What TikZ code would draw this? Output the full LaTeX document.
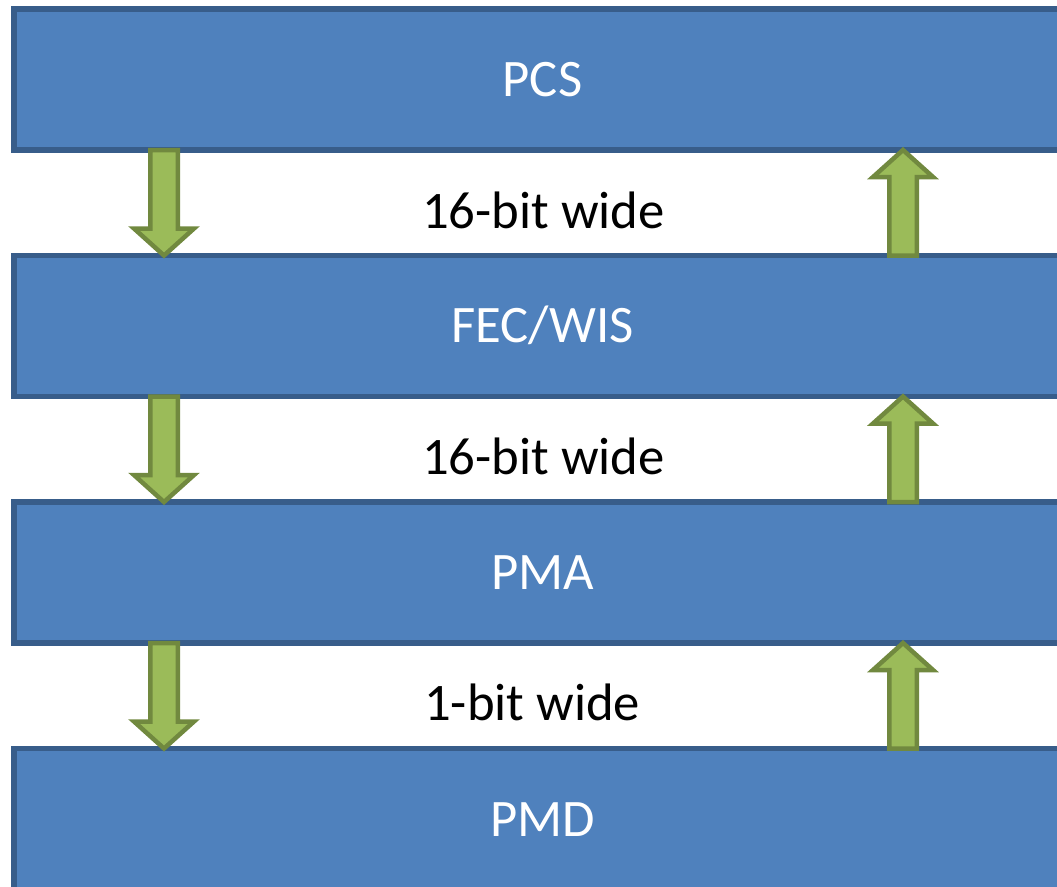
\documentclass[tikz,border=0pt]{standalone}
\usepackage{fontspec}
\setmainfont{Carlito}
\usetikzlibrary{calc}
\definecolor{boxfill}{HTML}{4F81BD}
\definecolor{boxline}{HTML}{385D8A}
\definecolor{arrfill}{HTML}{9BBB59}
\definecolor{arrline}{HTML}{71893F}
\newcommand\dnarrow[3]{%
  \draw[blockarrow] let \p1=(#1.south), \p2=(#2.north) in
   (#3pt-13.75pt,\y1) -- (#3pt+13.75pt,\y1) -- (#3pt+13.75pt,\y2+27pt)
   -- (#3pt+30pt,\y2+27pt) -- (#3pt,\y2) -- (#3pt-30pt,\y2+27pt)
   -- (#3pt-13.75pt,\y2+27pt) -- cycle;}
\newcommand\uparr[3]{%
  \draw[blockarrow] let \p1=(#1.south), \p2=(#2.north) in
   (#3pt-13.75pt,\y2) -- (#3pt+13.75pt,\y2) -- (#3pt+13.75pt,\y1-27pt)
   -- (#3pt+30pt,\y1-27pt) -- (#3pt,\y1) -- (#3pt-30pt,\y1-27pt)
   -- (#3pt-13.75pt,\y1-27pt) -- cycle;}
\begin{document}
\begin{tikzpicture}[x=1pt,y=-1pt,
  layerbox/.style={draw=boxline, fill=boxfill, line width=5.5pt,
    minimum width=1056pt, minimum height=141pt, inner sep=0pt, outer sep=0pt},
  layertext/.style={text=white, font=\fontsize{52.7}{60}\selectfont,
    anchor=base, inner sep=0pt},
  widthtext/.style={text=black, font=\fontsize{52.7}{60}\selectfont,
    anchor=base west, inner sep=0pt},
  blockarrow/.style={draw=arrline, fill=arrfill, line width=4.5pt, line join=miter}]
\useasboundingbox (0,0) rectangle (1057,886);
\clip (0,0) rectangle (1057,886);
% layers
\node[layerbox] (pcs) at (542,79.5) {};
\node[layerbox] (fec) at (542,326) {};
\node[layerbox] (pma) at (542,572.5) {};
\node[layerbox] (pmd) at (542,819) {};
% layer names
\node[layertext] (tpcs) at (542.5,96) {PCS};
\node[layertext] (tfec) at (542.5,342.5) {FEC/WIS};
\node[layertext] (tpma) at (542.5,589) {PMA};
\node[layertext] (tpmd) at (542.5,836) {PMD};
% width labels
\node[widthtext] (w1) at (422,228) {16-bit wide};
\node[widthtext] (w2) at (422,474.5) {16-bit wide};
\node[widthtext] (w3) at (424,720.5) {1-bit wide};
% arrows
\dnarrow{pcs}{fec}{164}
\dnarrow{fec}{pma}{164}
\dnarrow{pma}{pmd}{164}
\uparr{pcs}{fec}{903}
\uparr{fec}{pma}{903}
\uparr{pma}{pmd}{903}
\end{tikzpicture}
\end{document}
